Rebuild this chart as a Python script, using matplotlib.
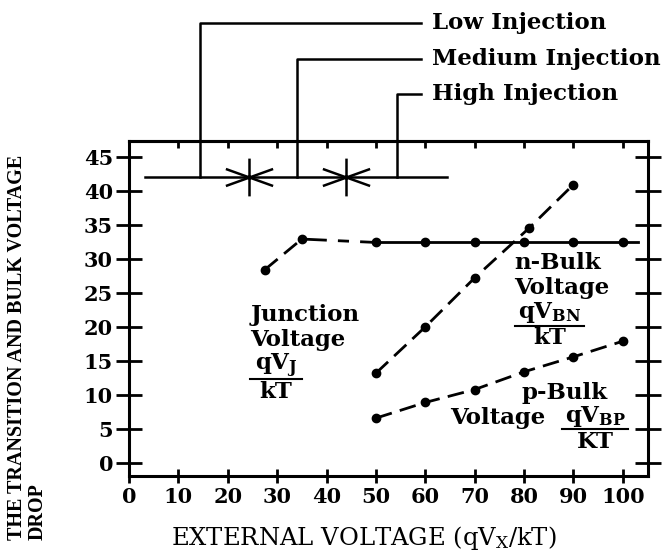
import matplotlib
matplotlib.use("Agg")
import matplotlib.pyplot as plt
from matplotlib.path import Path
import numpy as np

plt.rcParams['font.family'] = ['DejaVu Serif']
plt.rcParams['mathtext.fontset'] = 'dejavuserif'

# ---- data ----
junction_x = [27.5, 35, 50, 60, 70, 80, 90, 100]
junction_y = [28.4, 32.9, 32.4, 32.4, 32.4, 32.4, 32.4, 32.4]
junction_tail_x = 103

nbulk_x = [50, 60, 70, 81, 90]
nbulk_y = [13.2, 20.0, 27.2, 34.5, 40.9]

pbulk_x = [50, 60, 70, 80, 90, 100]
pbulk_y = [6.6, 8.9, 10.8, 13.4, 15.6, 17.9]

injection_labels = ["Low Injection", "Medium Injection", "High Injection"]
injection_x = [14.3, 34.1, 54.3]
injection_top = [64.6, 59.4, 54.2]
injection_level = 42
injection_span = [3.3, 64.4]
injection_text_x = 61.4
injection_line_end = 59.1
star_x = [24.2, 44.0]

xticks = [0, 10, 20, 30, 40, 50, 60, 70, 80, 90, 100]
yticks = [0, 5, 10, 15, 20, 25, 30, 35, 40, 45]

W, H = 670, 554
fig = plt.figure(figsize=(W / 100, H / 100), dpi=100)
ax = fig.add_axes([129 / W, (H - 476) / H, (648 - 129) / W, (476 - 141) / H])
ax.set_xlim(0, 105.1)
ax.set_ylim(-1.9, 47.3)

for s in ax.spines.values():
    s.set_linewidth(2.2)

ax.set_xticks(xticks)
ax.set_yticks(yticks)
ax.tick_params(axis='both', which='major', direction='inout', width=2.0,
               labelsize=15)
ax.tick_params(axis='y', length=19, right=True, pad=2)
ax.tick_params(axis='x', length=10, pad=3)
for lab in ax.get_xticklabels() + ax.get_yticklabels():
    lab.set_fontweight('bold')

# top inward ticks
axt = ax.secondary_xaxis('top')
axt.set_xticks(xticks)
axt.tick_params(direction='in', length=5, width=2.0, labelsize=0)
axt.set_xticklabels([])
axt.spines['top'].set_linewidth(2.2)

# ---- curves ----
lw = 2.0
dash = (0, (6, 3))
ax.plot(junction_x[:2], junction_y[:2], color='black', lw=lw, linestyle=dash)
ax.plot(junction_x[1:3], junction_y[1:3], color='black', lw=lw, linestyle=(0, (9, 4, 4, 4)))
ax.plot(junction_x[2:] + [junction_tail_x], junction_y[2:] + [junction_y[-1]],
        color='black', lw=lw, linestyle='-')
ax.plot(junction_x, junction_y, 'o', color='black', ms=6)

ax.plot(nbulk_x, nbulk_y, color='black', lw=lw, linestyle=dash, marker='o', ms=6)
ax.plot(pbulk_x, pbulk_y, color='black', lw=lw, linestyle=dash, marker='o', ms=6)

# ---- injection annotation ----
ax.plot(injection_span, [injection_level] * 2, color='black', lw=1.8, clip_on=False)
for lbl, xv, yt in zip(injection_labels, injection_x, injection_top):
    ax.plot([xv, xv, injection_line_end], [injection_level, yt, yt],
            color='black', lw=1.8, clip_on=False)
    ax.text(injection_text_x, yt, lbl, ha='left', va='center',
            fontsize=16.5, fontweight='bold', clip_on=False)

star = Path([(0, -1), (0, 1), (-1.25, -0.45), (1.25, 0.45), (-1.25, 0.45), (1.25, -0.45)],
            [Path.MOVETO, Path.LINETO, Path.MOVETO, Path.LINETO, Path.MOVETO, Path.LINETO])
ax.plot(star_x, [injection_level] * len(star_x), linestyle='none', marker=star,
        ms=34, mew=1.8, color='black', clip_on=False)

# ---- in-plot labels ----
fs = 16.5
tk = dict(fontsize=fs, fontweight='bold', ha='left', va='center')


def frac(xc, ybar, num, den, halfw):
    ax.text(xc, ybar + 1.9, num, fontsize=fs, ha='center', va='center')
    ax.plot([xc - halfw, xc + halfw], [ybar, ybar], color='black', lw=1.5)
    ax.text(xc, ybar - 1.9, den, fontsize=fs, fontweight='bold', ha='center', va='center')


ax.text(24.6, 21.8, "Junction", **tk)
ax.text(24.6, 18.1, "Voltage", **tk)
frac(29.8, 12.4, r"$\mathbf{qV_{J}}$", "kT", 5.3)

ax.text(78.0, 29.4, "n-Bulk", **tk)
ax.text(78.0, 25.7, "Voltage", **tk)
frac(85.2, 20.2, r"$\mathbf{qV_{BN}}$", "kT", 7.0)

ax.text(79.4, 10.3, "p-Bulk", **tk)
ax.text(65.0, 6.6, "Voltage", **tk)
frac(94.4, 5.0, r"$\mathbf{qV_{BP}}$", "KT", 6.7)

# ---- axis labels ----
fig.text(364 / W, 1 - 538 / H, r"EXTERNAL VOLTAGE (qV$_\mathrm{X}$/kT)", ha='center', va='center',
         fontsize=17.5)
fig.text(27 / W, 1 - 540 / H, "THE TRANSITION AND BULK VOLTAGE\nDROP", rotation=90,
         ha='center', va='bottom', multialignment='left', fontsize=14.5,
         fontweight='bold', family='Liberation Serif', linespacing=1.05)

fig.savefig("out.png", dpi=100)
